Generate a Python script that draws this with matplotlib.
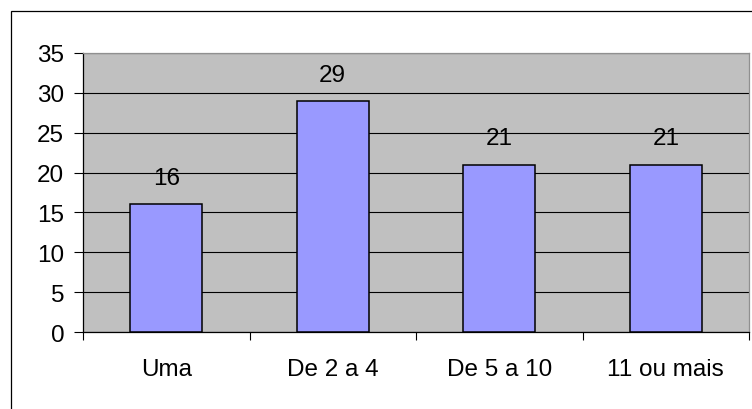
import matplotlib
matplotlib.use("Agg")
import matplotlib.pyplot as plt
from matplotlib.patches import Rectangle

categories = ["Uma", "De 2 a 4", "De 5 a 10", "11 ou mais"]
values = [16, 29, 21, 21]
yticks = [0, 5, 10, 15, 20, 25, 30, 35]

plt.rcParams['font.family'] = ['Liberation Sans', 'DejaVu Sans']
FS = 17.5

fig = plt.figure(figsize=(7.52, 4.10), dpi=100)
fig.patch.set_facecolor('white')
ax = fig.add_axes([83/752, 1-333/410, (749-83)/752, (333-54)/410])
ax.set_facecolor('#C0C0C0')

x = list(range(len(categories)))
ax.set_axisbelow(True)
ax.yaxis.grid(True, color='black', linewidth=0.8)
bars = ax.bar(x, values, width=0.43, color='#9999FF', edgecolor='black', linewidth=1.1, zorder=3)
for xi, v in zip(x, values):
    ax.annotate(str(v), (xi, v), xytext=(0, 14.5), textcoords='offset points',
                ha='center', va='baseline', fontsize=FS, color='black')

ax.set_xlim(-0.5, len(categories) - 0.5)
ax.set_ylim(0, 35)
ax.set_yticks(yticks)
ax.set_yticklabels([str(t) for t in yticks], fontsize=FS)
ax.set_xticks(x)
ax.set_xticklabels(categories, fontsize=FS)
ax.set_xticks([i - 0.5 for i in range(len(categories) + 1)], minor=True)
ax.tick_params(axis='x', which='major', length=0, pad=18.5)
ax.tick_params(axis='x', which='minor', length=6, width=0.8, direction='out')
ax.tick_params(axis='y', length=6.5, width=0.8, pad=7, direction='out')

for s in ['left', 'bottom']:
    ax.spines[s].set_color('black')
    ax.spines[s].set_linewidth(0.9)
for s in ['top', 'right']:
    ax.spines[s].set_color('#909090')
    ax.spines[s].set_linewidth(0.9)

fig.patches.append(Rectangle((11/752, -0.05), 1.1, 1 - 12/410 + 0.05,
                             transform=fig.transFigure, fill=False,
                             edgecolor='black', linewidth=0.9))

fig.savefig("out.png", dpi=100)
